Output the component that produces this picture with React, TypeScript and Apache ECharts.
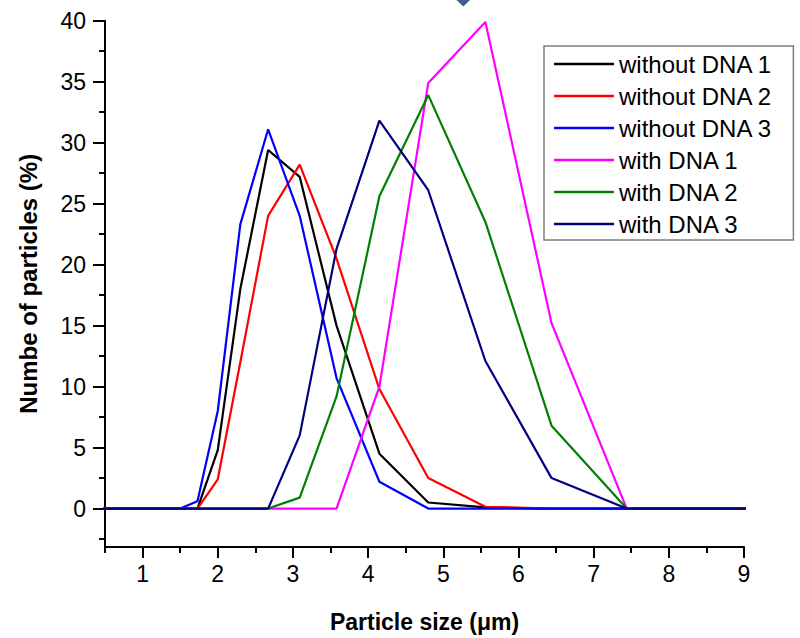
import React, { useEffect, useRef } from "react";
import * as echarts from "echarts";

// Particle size bins (µm), log-spaced
const SIZES = [
  0.47, 0.54, 0.63, 0.72, 0.84, 0.97, 1.12, 1.3, 1.5, 1.73, 2.0, 2.3, 2.67,
  3.09, 3.58, 4.15, 4.8, 5.56, 6.44, 7.44, 8.61, 9.96,
];

// Number of particles (%) per bin
const WITHOUT_DNA_1 = [0, 0, 0, 0, 0, 0, 0, 0, 0, 0, 4.8, 18.0, 29.4, 27.2, 15.0, 4.5, 0.5, 0.1, 0, 0, 0, 0];
const WITHOUT_DNA_2 = [0, 0, 0, 0, 0, 0, 0, 0, 0, 0, 2.4, 12.0, 24.0, 28.2, 20.5, 9.8, 2.5, 0.15, 0, 0, 0, 0];
const WITHOUT_DNA_3 = [0, 0, 0, 0, 0, 0, 0, 0, 0, 0.6, 8.0, 23.3, 31.1, 24.0, 10.7, 2.2, 0, 0, 0, 0, 0, 0];
const WITH_DNA_1 = [0, 0, 0, 0, 0, 0, 0, 0, 0, 0, 0, 0, 0, 0, 0, 10.0, 34.9, 39.9, 15.2, 0, 0, 0];
const WITH_DNA_2 = [0, 0, 0, 0, 0, 0, 0, 0, 0, 0, 0, 0, 0, 0.9, 9.2, 25.6, 33.9, 23.5, 6.8, 0, 0, 0];
const WITH_DNA_3 = [0, 0, 0, 0, 0, 0, 0, 0, 0, 0, 0, 0, 0, 6.0, 21.3, 31.8, 26.1, 12.1, 2.5, 0, 0, 0];

const SERIES_NAMES = [
  "without DNA 1",
  "without DNA 2",
  "without DNA 3",
  "with DNA 1",
  "with DNA 2",
  "with DNA 3",
];
const SERIES_VALUES = [WITHOUT_DNA_1, WITHOUT_DNA_2, WITHOUT_DNA_3, WITH_DNA_1, WITH_DNA_2, WITH_DNA_3];
const SERIES_COLORS = ["#000000", "#ff0000", "#0000ff", "#ff00ff", "#008000", "#000080"];

// Axis ticks
const X_MAJOR = [1, 2, 3, 4, 5, 6, 7, 8, 9];
const X_MINOR = [0.5, 1.5, 2.5, 3.5, 4.5, 5.5, 6.5, 7.5, 8.5];
const Y_MAJOR = [0, 5, 10, 15, 20, 25, 30, 35, 40];
const Y_MINOR = [-2.5, 2.5, 7.5, 12.5, 17.5, 22.5, 27.5, 32.5, 37.5];

const FONT = "'Liberation Sans', Arial, Helvetica, sans-serif";

export default function App() {
  const ref = useRef<HTMLDivElement>(null);

  useEffect(() => {
    if (!ref.current) return;
    const chart = echarts.init(ref.current, undefined, { renderer: "svg" });

    const axisColor = "#000";
    const tickStyle = { color: axisColor, width: 2 };

    chart.setOption({
      animation: false,
      backgroundColor: "#ffffff",
      grid: { left: 105, right: 56, top: 20.7, bottom: 90.3 },
      xAxis: [
        {
          type: "value",
          min: 0.5,
          max: 9,
          position: "bottom",
          name: "Particle size (\u03bcm)",
          nameLocation: "middle",
          nameGap: 63,
          nameTextStyle: { fontSize: 23, fontWeight: "bold", color: "#000", fontFamily: FONT },
          axisLine: { show: true, onZero: false, lineStyle: { color: axisColor, width: 2 } },
          axisTick: { show: true, customValues: X_MAJOR, length: 11, lineStyle: tickStyle },
          axisLabel: { customValues: X_MAJOR, margin: 15, fontSize: 23, color: "#000", fontFamily: FONT },
          splitLine: { show: false },
        },
        {
          type: "value",
          min: 0.5,
          max: 9,
          position: "bottom",
          axisLine: { show: false, onZero: false },
          axisTick: { show: true, customValues: X_MINOR, length: 6, lineStyle: tickStyle },
          axisLabel: { show: false },
          splitLine: { show: false },
        },
      ],
      yAxis: [
        {
          type: "value",
          min: -3.15,
          max: 40,
          position: "left",
          name: "Numbe of particles (%)",
          nameLocation: "middle",
          nameGap: 65,
          nameTextStyle: { fontSize: 24, fontWeight: "bold", color: "#000", fontFamily: FONT },
          axisLine: { show: true, onZero: false, lineStyle: { color: axisColor, width: 2 } },
          axisTick: { show: true, customValues: Y_MAJOR, length: 12, lineStyle: tickStyle },
          axisLabel: { customValues: Y_MAJOR, margin: 19, fontSize: 23, color: "#000", fontFamily: FONT },
          splitLine: { show: false },
        },
        {
          type: "value",
          min: -3.15,
          max: 40,
          position: "left",
          axisLine: { show: false, onZero: false },
          axisTick: { show: true, customValues: Y_MINOR, length: 6, lineStyle: tickStyle },
          axisLabel: { show: false },
          splitLine: { show: false },
        },
      ],
      legend: {
        orient: "vertical",
        left: 544,
        top: 46,
        icon: "rect",
        itemWidth: 60,
        itemHeight: 2.5,
        itemGap: 8,
        padding: [6, 21, 4, 10],
        borderColor: "#7f7f7f",
        borderWidth: 1.5,
        backgroundColor: "#ffffff",
        textStyle: { fontSize: 24, lineHeight: 24, color: "#000", fontFamily: FONT },
        data: SERIES_NAMES,
      },
      series: SERIES_NAMES.map((name, i) => ({
        name,
        type: "line",
        xAxisIndex: 0,
        yAxisIndex: 0,
        symbol: "none",
        lineStyle: { color: SERIES_COLORS[i], width: 2.2 },
        itemStyle: { color: SERIES_COLORS[i] },
        data: SIZES.map((s, j) => [s, SERIES_VALUES[i][j]]),
      })),
      graphic: [
        {
          type: "polygon",
          shape: { points: [[456.5, 0], [470, 0], [463.3, 6.5]] },
          style: { fill: "#3d5d94" },
        },
      ],
    });

    return () => chart.dispose();
  }, []);

  return (
    <div
      ref={ref}
      style={{ position: "absolute", left: 0, top: 0, width: 800, height: 638 }}
    />
  );
}
